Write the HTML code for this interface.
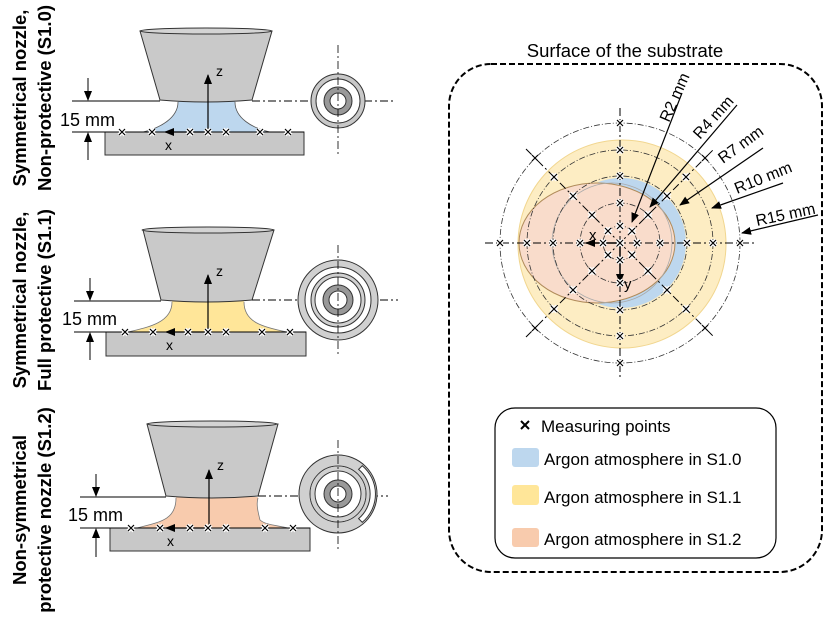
<!DOCTYPE html>
<html><head><meta charset="utf-8"><style>
html,body{margin:0;padding:0;background:#fff;}
svg{display:block;font-family:"Liberation Sans",sans-serif;}
</style></head><body>
<svg width="826" height="618" viewBox="0 0 826 618" xmlns="http://www.w3.org/2000/svg">
<defs>
<marker id="ah" markerWidth="10" markerHeight="8" refX="9" refY="4" orient="auto" markerUnits="userSpaceOnUse"><path d="M0,0 L10,4 L0,8 Z" fill="#000"/></marker>
<g id="cx"><path d="M-3,-3 L3,3 M-3,3 L3,-3" stroke="#fff" stroke-width="4"/><path d="M-3,-3 L3,3 M-3,3 L3,-3" stroke="#000" stroke-width="1.2"/></g>
</defs>

<!-- Left labels -->
<g font-weight="bold" font-size="18.5" text-anchor="middle">
<text transform="translate(26,98) rotate(-90)">Symmetrical nozzle,</text>
<text transform="translate(51,98) rotate(-90)">Non-protective  (S1.0)</text>
<text transform="translate(26,300) rotate(-90)">Symmetrical nozzle,</text>
<text transform="translate(51,300) rotate(-90)">Full protective (S1.1)</text>
<text transform="translate(26,510) rotate(-90)">Non-symmetrical</text>
<text transform="translate(51,510) rotate(-90)">protective nozzle (S1.2)</text>
</g>

<!-- Nozzle 1 -->
<g>
<rect x="105" y="132" width="199" height="23" fill="#c8c8c8" stroke="#333" stroke-width="1"/>
<path d="M178,101 C178,118 160,128 143,132 L270,132 C252,128 235,118 235,101 Z" fill="#bdd7ee"/>
<path d="M140,31 L160,100 Q206,104 252,100 L272,31 Z" fill="#c9c9c9" stroke="#333" stroke-width="1"/>
<ellipse cx="206" cy="31" rx="66" ry="3" fill="#d4d4d4" stroke="#333" stroke-width="1"/>
<path d="M178,102 C178,118 160,128 143,132 M235,102 C235,118 252,128 270,132" fill="none" stroke="#555" stroke-width="0.8"/>
<line x1="105" y1="132" x2="304" y2="132" stroke="#000" stroke-width="1"/>
<line x1="72" y1="101" x2="160" y2="101" stroke="#000"/>
<line x1="72" y1="132" x2="105" y2="132" stroke="#000"/>
<line x1="88" y1="78" x2="88" y2="100" stroke="#000" marker-end="url(#ah)"/>
<line x1="88" y1="160" x2="88" y2="133" stroke="#000" marker-end="url(#ah)"/>
<text x="60" y="126" font-size="18">15 mm</text>
<line x1="252" y1="101" x2="395" y2="101" stroke="#000" stroke-dasharray="8,3,2,3"/>
<line x1="208" y1="132" x2="208" y2="75" stroke="#000" stroke-width="1.2" marker-end="url(#ah)"/>
<line x1="208" y1="132" x2="165" y2="132" stroke="#000" stroke-width="1.2" marker-end="url(#ah)"/>
<text x="216" y="76" font-size="14">z</text>
<text x="165" y="150" font-size="14">x</text>
<use href="#cx" x="122" y="132"/><use href="#cx" x="152" y="132"/><use href="#cx" x="190" y="132"/><use href="#cx" x="208" y="132"/><use href="#cx" x="226" y="132"/><use href="#cx" x="260" y="132"/><use href="#cx" x="288" y="132"/>
<circle cx="338" cy="101" r="24.5" fill="#fff" stroke="#c8c8c8" stroke-width="5"/>
<circle cx="338" cy="101" r="27" fill="none" stroke="#333" stroke-width="1"/>
<circle cx="338" cy="101" r="22" fill="none" stroke="#333" stroke-width="1"/>
<circle cx="338" cy="101" r="11" fill="#fff" stroke="#999" stroke-width="6"/>
<circle cx="338" cy="101" r="14" fill="none" stroke="#333" stroke-width="1"/>
<circle cx="338" cy="101" r="8" fill="none" stroke="#333" stroke-width="1"/>
<line x1="338" y1="45" x2="338" y2="155" stroke="#000" stroke-width="0.8" stroke-dasharray="8,3,2,3"/>
</g>

<!-- Nozzle 2 -->
<g>
<rect x="106" y="332" width="200" height="24" fill="#c8c8c8" stroke="#333" stroke-width="1"/>
<path d="M172,301 C172,322 150,327 128,332 L287,332 C262,327 244,322 244,301 Z" fill="#ffe699"/>
<path d="M143,230 L161,300 Q207,304 252,300 L274,230 Z" fill="#c9c9c9" stroke="#333" stroke-width="1"/>
<ellipse cx="208" cy="230" rx="66" ry="3" fill="#d4d4d4" stroke="#333" stroke-width="1"/>
<path d="M172,302 C172,322 150,327 128,332 M244,302 C244,322 262,327 287,332" fill="none" stroke="#777" stroke-width="0.8"/>
<line x1="106" y1="332" x2="306" y2="332" stroke="#000"/>
<line x1="74" y1="301" x2="161" y2="301" stroke="#000"/>
<line x1="74" y1="332" x2="106" y2="332" stroke="#000"/>
<line x1="90" y1="278" x2="90" y2="300" stroke="#000" marker-end="url(#ah)"/>
<line x1="90" y1="360" x2="90" y2="333" stroke="#000" marker-end="url(#ah)"/>
<text x="62" y="325" font-size="18">15 mm</text>
<line x1="252" y1="300" x2="398" y2="300" stroke="#000" stroke-dasharray="8,3,2,3"/>
<line x1="208" y1="332" x2="208" y2="275" stroke="#000" stroke-width="1.2" marker-end="url(#ah)"/>
<line x1="208" y1="332" x2="166" y2="332" stroke="#000" stroke-width="1.2" marker-end="url(#ah)"/>
<text x="216" y="276" font-size="14">z</text>
<text x="166" y="350" font-size="14">x</text>
<use href="#cx" x="125" y="332"/><use href="#cx" x="153" y="332"/><use href="#cx" x="188" y="332"/><use href="#cx" x="208" y="332"/><use href="#cx" x="226" y="332"/><use href="#cx" x="262" y="332"/><use href="#cx" x="290" y="332"/>
<circle cx="338" cy="300" r="36.5" fill="#fff" stroke="#d0d0d0" stroke-width="7"/>
<circle cx="338" cy="300" r="25" fill="none" stroke="#d0d0d0" stroke-width="4"/>
<circle cx="338" cy="300" r="12" fill="#fff" stroke="#999" stroke-width="6"/>
<g fill="none" stroke="#333" stroke-width="1">
<circle cx="338" cy="300" r="40"/><circle cx="338" cy="300" r="33"/><circle cx="338" cy="300" r="27"/><circle cx="338" cy="300" r="23"/><circle cx="338" cy="300" r="15"/><circle cx="338" cy="300" r="9"/>
</g>
<line x1="338" y1="245" x2="338" y2="355" stroke="#000" stroke-width="0.8" stroke-dasharray="8,3,2,3"/>
</g>

<!-- Nozzle 3 -->
<g>
<rect x="110" y="528" width="200" height="23" fill="#c8c8c8" stroke="#333" stroke-width="1"/>
<path d="M176,497 C176,520 160,522 137,528 L288,528 C275,525 266,525 260,520 C258,512 256,504 258,497 Z" fill="#f8cbad"/>
<path d="M147,424 L166,496 Q212,500 258,496 L278,424 Z" fill="#c9c9c9" stroke="#333" stroke-width="1"/>
<ellipse cx="212" cy="424" rx="65" ry="3" fill="#d4d4d4" stroke="#333" stroke-width="1"/>
<path d="M176,498 C176,520 160,522 137,528 M258,498 C256,504 258,512 260,520 C266,525 275,525 288,528" fill="none" stroke="#777" stroke-width="0.8"/>
<line x1="110" y1="528" x2="310" y2="528" stroke="#000"/>
<line x1="80" y1="497" x2="166" y2="497" stroke="#000"/>
<line x1="80" y1="528" x2="110" y2="528" stroke="#000"/>
<line x1="96" y1="474" x2="96" y2="496" stroke="#000" marker-end="url(#ah)"/>
<line x1="96" y1="557" x2="96" y2="529" stroke="#000" marker-end="url(#ah)"/>
<text x="68" y="521" font-size="18">15 mm</text>
<line x1="258" y1="496" x2="388" y2="496" stroke="#000" stroke-dasharray="8,3,2,3"/>
<line x1="209" y1="528" x2="209" y2="470" stroke="#000" stroke-width="1.2" marker-end="url(#ah)"/>
<line x1="209" y1="528" x2="166" y2="528" stroke="#000" stroke-width="1.2" marker-end="url(#ah)"/>
<text x="217" y="470" font-size="14">z</text>
<text x="167" y="546" font-size="14">x</text>
<use href="#cx" x="131" y="528"/><use href="#cx" x="160" y="528"/><use href="#cx" x="190" y="528"/><use href="#cx" x="208" y="528"/><use href="#cx" x="226" y="528"/><use href="#cx" x="265" y="528"/><use href="#cx" x="293" y="528"/>
<circle cx="338" cy="494" r="39" fill="#d0d0d0" stroke="#333" stroke-width="1"/>
<path d="M358.6,469.4 A32,32 0 0 1 358.6,518.6 L362.3,522.3 A37,37 0 0 0 362.3,465.7 Z" fill="#fff" stroke="#333" stroke-width="1"/>
<circle cx="338" cy="494" r="28" fill="#fff" stroke="#333" stroke-width="1"/>
<circle cx="338" cy="494" r="25.5" fill="none" stroke="#d0d0d0" stroke-width="4"/>
<circle cx="338" cy="494" r="23" fill="none" stroke="#333" stroke-width="1"/>
<circle cx="338" cy="494" r="11" fill="#fff" stroke="#999" stroke-width="6"/>
<circle cx="338" cy="494" r="14" fill="none" stroke="#333" stroke-width="1"/>
<circle cx="338" cy="494" r="8" fill="none" stroke="#333" stroke-width="1"/>
<line x1="338" y1="440" x2="338" y2="550" stroke="#000" stroke-width="0.8" stroke-dasharray="8,3,2,3"/>
</g>

<!-- Right panel -->
<text x="625" y="57" font-size="18.5" text-anchor="middle">Surface of the substrate</text>
<rect x="449" y="64" width="373" height="508" rx="42" fill="none" stroke="#000" stroke-width="2" stroke-dasharray="6,3"/>

<circle cx="622" cy="244" r="104" fill="#fdedc3" stroke="#f1d68f" stroke-width="1"/>
<circle cx="621" cy="243" r="65" fill="#bdd7ee"/>
<ellipse cx="597" cy="243" rx="78" ry="60" fill="#f9dccb" stroke="#b08b5a" stroke-width="1"/>
<circle cx="612" cy="243" r="60" fill="none" stroke="#aaa" stroke-width="0.8"/>

<g fill="none" stroke="#333" stroke-width="0.8" stroke-dasharray="6,2,1,2">
<circle cx="620" cy="243" r="17"/><circle cx="620" cy="243" r="40"/><circle cx="620" cy="243" r="67"/><circle cx="620" cy="243" r="93"/><circle cx="620" cy="243" r="120"/>
</g>
<g stroke="#000" stroke-width="1" stroke-dasharray="8,3,2,3">
<line x1="485" y1="243" x2="755" y2="243"/>
<line x1="620" y1="108" x2="620" y2="378"/>
<line x1="526" y1="149" x2="714" y2="337"/>
<line x1="526" y1="337" x2="714" y2="149"/>
</g>
<line x1="620" y1="243" x2="586" y2="243" stroke="#000" stroke-width="1.5" marker-end="url(#ah)"/>
<line x1="620" y1="243" x2="620" y2="283" stroke="#000" stroke-width="1.5" marker-end="url(#ah)"/>
<text x="589" y="240" font-size="15">x</text>
<text x="624" y="289" font-size="15">y</text>
<g>
<use href="#cx" x="620" y="243"/>
<use href="#cx" x="637" y="243"/><use href="#cx" x="660" y="243"/><use href="#cx" x="687" y="243"/><use href="#cx" x="713" y="243"/><use href="#cx" x="740" y="243"/>
<use href="#cx" x="603" y="243"/><use href="#cx" x="580" y="243"/><use href="#cx" x="553" y="243"/><use href="#cx" x="527" y="243"/><use href="#cx" x="500" y="243"/>
<use href="#cx" x="620" y="226"/><use href="#cx" x="620" y="203"/><use href="#cx" x="620" y="176"/><use href="#cx" x="620" y="150"/><use href="#cx" x="620" y="123"/>
<use href="#cx" x="620" y="260"/><use href="#cx" x="620" y="283"/><use href="#cx" x="620" y="310"/><use href="#cx" x="620" y="336"/><use href="#cx" x="620" y="363"/>
<use href="#cx" x="608" y="231"/><use href="#cx" x="592" y="215"/><use href="#cx" x="573" y="196"/><use href="#cx" x="554" y="177"/><use href="#cx" x="535" y="158"/>
<use href="#cx" x="632" y="231"/><use href="#cx" x="648" y="215"/><use href="#cx" x="667" y="196"/><use href="#cx" x="686" y="177"/><use href="#cx" x="705" y="158"/>
<use href="#cx" x="608" y="255"/><use href="#cx" x="592" y="271"/><use href="#cx" x="573" y="290"/><use href="#cx" x="554" y="309"/><use href="#cx" x="535" y="328"/>
<use href="#cx" x="632" y="255"/><use href="#cx" x="648" y="271"/><use href="#cx" x="667" y="290"/><use href="#cx" x="686" y="309"/><use href="#cx" x="705" y="328"/>
</g>

<!-- radius leaders -->
<g stroke="#000" stroke-width="1.2">
<line x1="682" y1="93" x2="632" y2="222" marker-end="url(#ah)"/>
<line x1="737" y1="105" x2="650" y2="207" marker-end="url(#ah)"/>
<line x1="763" y1="148" x2="680" y2="205" marker-end="url(#ah)"/>
<line x1="783" y1="183" x2="712" y2="208" marker-end="url(#ah)"/>
<line x1="818" y1="215" x2="742" y2="233" marker-end="url(#ah)"/>
</g>
<g font-size="16">
<text transform="translate(669,123) rotate(-66)">R2 mm</text>
<text transform="translate(700,140) rotate(-48)">R4 mm</text>
<text transform="translate(723,164) rotate(-36)">R7 mm</text>
<text transform="translate(737,194) rotate(-22)">R10 mm</text>
<text transform="translate(757,226) rotate(-12)">R15 mm</text>
</g>

<!-- legend -->
<rect x="495" y="408" width="281" height="150" rx="20" fill="#fff" stroke="#000" stroke-width="1.2"/>
<path d="M521,421 L529,429 M529,421 L521,429" stroke="#000" stroke-width="2"/>
<text x="541" y="432" font-size="17">Measuring points</text>
<rect x="512" y="448" width="27" height="19" rx="3" fill="#bdd7ee"/>
<text x="544" y="465" font-size="17">Argon atmosphere in S1.0</text>
<rect x="512" y="485" width="27" height="20" rx="3" fill="#ffe699"/>
<text x="544" y="503" font-size="17">Argon atmosphere in S1.1</text>
<rect x="512" y="528" width="27" height="19" rx="3" fill="#f8cbad"/>
<text x="544" y="545" font-size="17">Argon atmosphere in S1.2</text>
</svg>
</body></html>
